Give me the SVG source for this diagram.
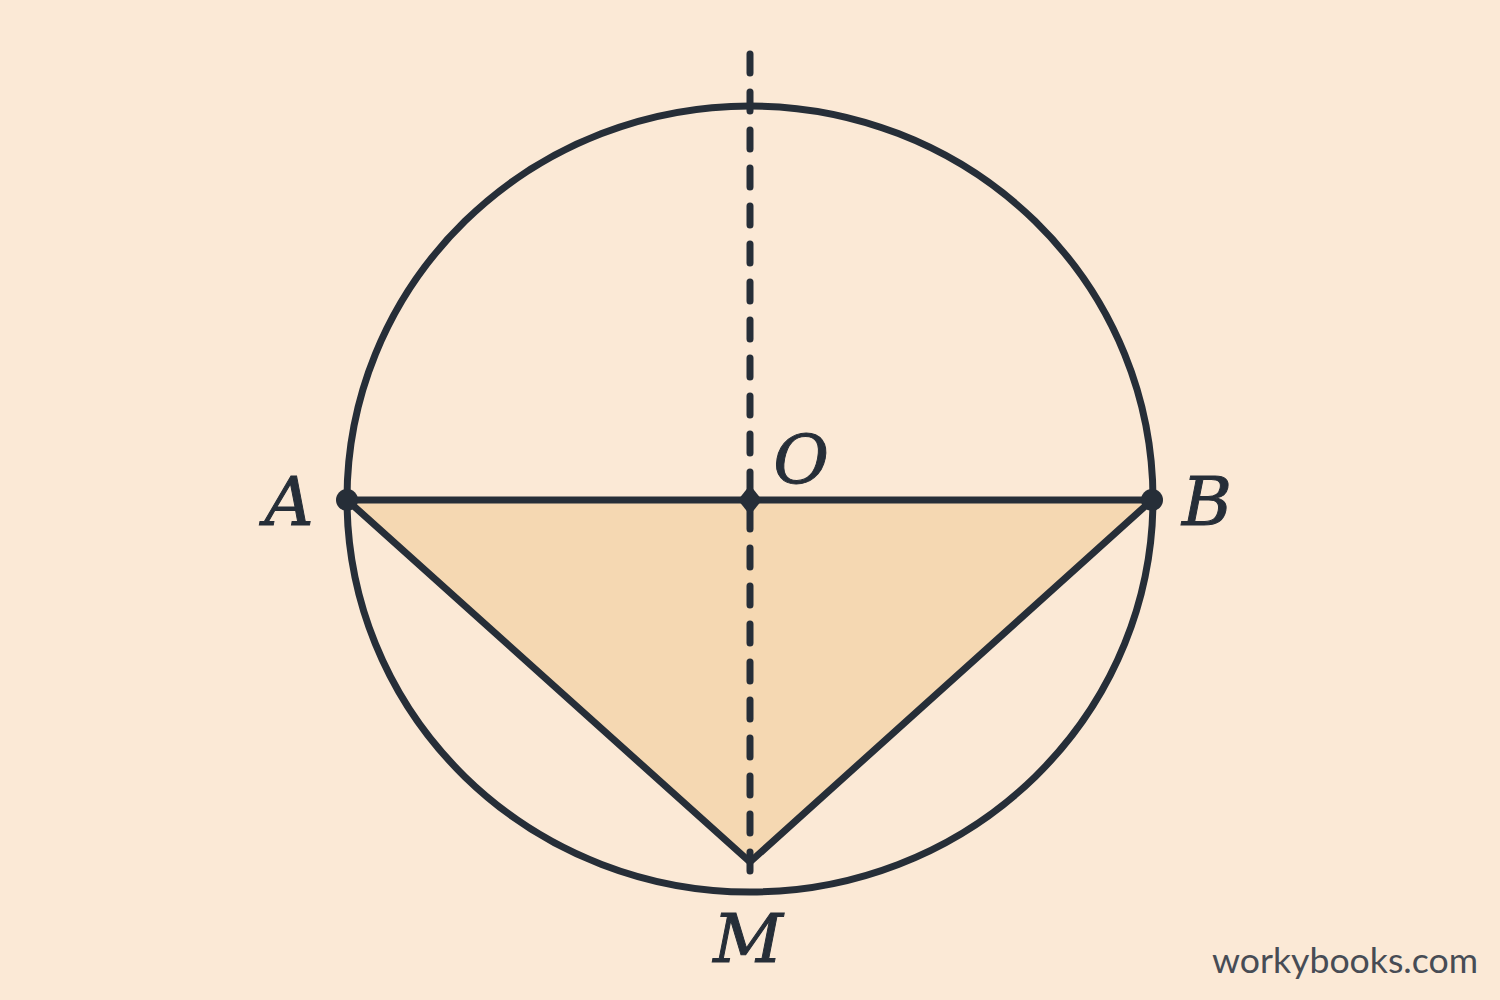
<svg xmlns="http://www.w3.org/2000/svg" width="1500" height="1000" viewBox="0 0 1500 1000">
<style>
.ln{stroke:#262e38;stroke-width:7;fill:none;stroke-linecap:round;stroke-linejoin:round}
.lbl{font-family:"DejaVu Serif","Liberation Serif",serif;font-style:italic;font-size:68px;fill:#262e38;stroke:#262e38;stroke-width:1;text-anchor:middle}
</style>
<rect width="1500" height="1000" fill="#fbe9d6"/>
<g id="triangle">
<polygon points="347,500 1152,500 750,862" fill="#f5d8b2"/>
</g>
<g id="connectors">
<ellipse class="ln" cx="750" cy="499" rx="403" ry="393"/>
<line class="ln" x1="750" y1="54" x2="750" y2="882" stroke-dasharray="19 19"/>
<polyline class="ln" points="347,500 750,862 1152,500"/>
<line class="ln" x1="347" y1="500" x2="1152" y2="500"/>
</g>
<g id="A"><circle cx="347" cy="500" r="11" fill="#262e38"/><text class="lbl" x="289" y="525">A</text></g>
<g id="B"><circle cx="1152" cy="500" r="11" fill="#262e38"/><text class="lbl" x="1207" y="525">B</text></g>
<g id="O"><polygon points="750,485 762,500 750,515 738,500" fill="#262e38"/><text class="lbl" x="801" y="483">O</text></g>
<g id="M"><text class="lbl" x="748" y="962">M</text></g>
<text x="1212" y="973" font-family="Lato,'Noto Sans',sans-serif" font-size="34" fill="#474c55" textLength="266" lengthAdjust="spacingAndGlyphs">workybooks.com</text>
</svg>
